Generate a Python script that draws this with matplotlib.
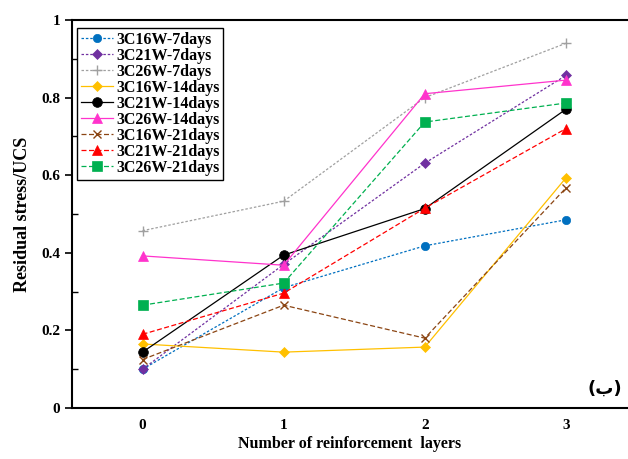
import matplotlib.pyplot as plt
from matplotlib.ticker import MultipleLocator

layers = [0, 1, 2, 3]

s16_7 = [0.10, 0.31, 0.418, 0.485]
s21_7 = [0.10, 0.37, 0.631, 0.857]
s26_7 = [0.457, 0.533, 0.80, 0.94]
s16_14 = [0.165, 0.144, 0.157, 0.593]
s21_14 = [0.144, 0.394, 0.514, 0.77]
s26_14 = [0.392, 0.368, 0.81, 0.845]
s16_21 = [0.125, 0.265, 0.18, 0.567]
s21_21 = [0.19, 0.296, 0.515, 0.72]
s26_21 = [0.265, 0.322, 0.737, 0.786]

names = ["3C16W-7days", "3C21W-7days", "3C26W-7days",
         "3C16W-14days", "3C21W-14days", "3C26W-14days",
         "3C16W-21days", "3C21W-21days", "3C26W-21days"]

plt.rcParams['font.family'] = ['Liberation Serif', 'DejaVu Sans']
plt.rcParams['font.weight'] = 'bold'

fig = plt.figure(figsize=(6.28, 4.59), dpi=100)
ax = fig.add_axes([72 / 628, 51 / 459, 556 / 628, 388 / 459])

# (series, colour, linestyle, marker, markersize)
styles = [
    (s16_7, "#0070C0", (0, (2, 1.5)), "o", 6),
    (s21_7, "#7030A0", (0, (2, 1.5)), "D", 5),
    (s26_7, "#A0A0A0", (0, (2, 1.5)), "+", 7),
    (s16_14, "#FFC000", "-", "D", 5),
    (s21_14, "#000000", "-", "o", 7),
    (s26_14, "#FF33CC", "-", "^", 7),
    (s16_21, "#8B4513", (0, (4, 2)), "x", 6),
    (s21_21, "#FF0000", (0, (4, 2)), "^", 7),
    (s26_21, "#00B050", (0, (4, 2)), "s", 7),
]

for (vals, c, ls, mk, ms), name in zip(styles, names):
    ax.plot(layers, vals, color=c, linestyle=ls, marker=mk, markersize=ms,
            linewidth=0.9, label=name, markeredgewidth=1.0 if mk in "+x" else 0.5)

ax.set_xlim(-0.5, 3.44)
ax.set_ylim(0, 1)
ax.set_xticks(layers)
ax.yaxis.set_minor_locator(MultipleLocator(0.1))
ax.set_yticks([0, 0.2, 0.4, 0.6, 0.8, 1.0])
ax.set_yticklabels(["0", "0.2", "0.4", "0.6", "0.8", "1"])
ax.tick_params(axis='x', length=0, labelsize=11, pad=8)
ax.tick_params(axis='y', which='major', direction='out', length=5, width=1.2, labelsize=11)
ax.tick_params(axis='y', which='minor', direction='in', length=4, width=1)
ax.spines['right'].set_visible(False)
for s in ['left', 'bottom', 'top']:
    ax.spines[s].set_linewidth(1.5)

ax.set_xlabel("Number of reinforcement  layers", fontsize=11.5, fontweight='bold', labelpad=3)
ax.set_ylabel("Residual stress/UCS", fontsize=13, fontweight='bold', labelpad=7)

ax.text(3.4, 0.05, "(ب)", fontsize=13, fontweight='bold', ha='right', va='center',
        family=['DejaVu Sans'])

leg = ax.legend(loc='upper left', bbox_to_anchor=(0.003, 0.988), fontsize=11.5,
                frameon=True, fancybox=False, edgecolor='black', framealpha=1,
                handlelength=2.0, handletextpad=0.2, labelspacing=0.0,
                borderpad=0.25, borderaxespad=0.2)
leg.get_frame().set_linewidth(1.0)
for t in leg.get_texts():
    t.set_fontweight('bold')

fig.savefig("out.png", dpi=100)
